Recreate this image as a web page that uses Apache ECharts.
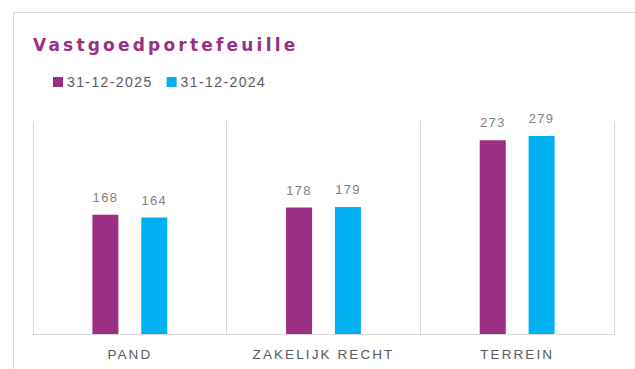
<!DOCTYPE html>
<html>
<head>
<meta charset="utf-8">
<script src="https://cdn.jsdelivr.net/npm/echarts@6/dist/echarts.min.js"></script>
<style>
  html, body { margin: 0; padding: 0; background: #ffffff; }
  #chart { width: 635px; height: 369px; }
  /* tracking for the different text roles (SVG renderer) */
  #chart text[style*="17px"] { letter-spacing: 3.2px; }
  #chart text[style*="14px"] { letter-spacing: 1.4px; }
  #chart text[style*="13.5px"] { letter-spacing: 2.1px; }
  #chart text[style*="13px"] { letter-spacing: 1.3px; }
</style>
</head>
<body>
<div id="chart"></div>
<script>
const titleText = 'Vastgoedportefeuille';
const categories = ['PAND', 'ZAKELIJK RECHT', 'TERREIN'];
const seriesNames = ['31-12-2025', '31-12-2024'];
const values2025 = [168, 178, 273];
const values2024 = [164, 179, 279];

const purple = '#9A2F83';
const blue = '#00B0F0';
const lineGrey = '#D9D9D9';
const fontStack = 'Liberation Sans, Arial, sans-serif';

const chart = echarts.init(document.getElementById('chart'), null, { renderer: 'svg' });

const labelStyle = {
  show: true,
  position: 'top',
  distance: 11,
  color: '#7F7F7F',
  fontSize: 13,
  fontFamily: fontStack
};

chart.setOption({
  animation: false,
  backgroundColor: '#ffffff',
  graphic: [{
    type: 'rect',
    silent: true,
    shape: { x: 13.5, y: 12.5, width: 700, height: 400 },
    style: { fill: 'none', stroke: lineGrey, lineWidth: 1 }
  }],
  title: {
    text: titleText,
    left: 33,
    top: 36,
    padding: 0,
    textStyle: {
      color: purple,
      fontSize: 17,
      fontWeight: 'bold',
      fontFamily: 'DejaVu Sans, sans-serif'
    }
  },
  legend: {
    data: seriesNames,
    left: 53,
    top: 75,
    padding: 0,
    icon: 'rect',
    itemWidth: 10,
    itemHeight: 10,
    itemGap: 28,
    textStyle: {
      color: '#595959',
      fontSize: 14,
      padding: [0, 0, 0, -1],
      fontFamily: fontStack
    }
  },
  grid: { left: 33, right: 21, top: 121, bottom: 35, containLabel: false },
  xAxis: {
    type: 'category',
    data: categories,
    axisLine: { lineStyle: { color: lineGrey, width: 1 } },
    axisTick: { show: false },
    splitLine: { show: true, lineStyle: { color: lineGrey, width: 1 } },
    axisLabel: {
      color: '#595959',
      fontSize: 13.5,
      margin: 13,
      fontFamily: fontStack
    }
  },
  yAxis: {
    type: 'value',
    min: 0,
    max: 300,
    show: false,
    splitLine: { show: false }
  },
  series: [
    {
      name: seriesNames[0],
      type: 'bar',
      data: values2025,
      barWidth: 26,
      barGap: '88%',
      itemStyle: { color: purple },
      label: labelStyle
    },
    {
      name: seriesNames[1],
      type: 'bar',
      data: values2024,
      barWidth: 26,
      itemStyle: { color: blue },
      label: labelStyle
    }
  ]
});
</script>
</body>
</html>
